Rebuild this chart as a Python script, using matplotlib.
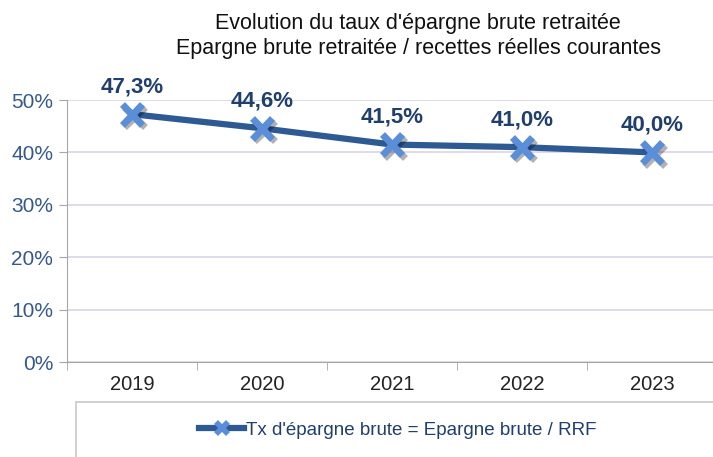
import matplotlib
matplotlib.use("Agg")
import matplotlib.pyplot as plt
import matplotlib.patheffects as pe
from matplotlib.patches import Rectangle

plt.rcParams['font.family'] = ['Liberation Sans', 'DejaVu Sans']

# donnees
annees = ['2019', '2020', '2021', '2022', '2023']
taux = [0.473, 0.446, 0.415, 0.410, 0.400]
etiquettes = ['47,3%', '44,6%', '41,5%', '41,0%', '40,0%']
yticks_lbl = ['0%', '10%', '20%', '30%', '40%', '50%']

bleu_fonce = '#2e5a94'
bleu_clair = '#5b8ed8'
bleu_texte = '#1f3f6e'

fig = plt.figure(figsize=(7.13, 4.57), dpi=100)
ax = fig.add_axes([67/713, 1 - 362/457, 650/713, 262/457])

x = range(len(annees))
ax.plot(x, taux, color=bleu_fonce, lw=4.5, zorder=3)
ax.plot(x, taux, ls='none', marker='x', ms=15, mew=5, color=bleu_clair, zorder=4,
        path_effects=[pe.SimpleLineShadow(offset=(1.5, -2), alpha=0.3), pe.Normal()])

for i, (v, t) in enumerate(zip(taux, etiquettes)):
    ax.annotate(t, (i, v), xytext=(0, 12), textcoords='offset points', ha='center',
                va='bottom', fontsize=16, fontweight='bold', color=bleu_texte)

ax.set_xlim(-0.5, 4.5)
ax.set_ylim(0, 0.5)
ax.set_yticks([0, 0.1, 0.2, 0.3, 0.4, 0.5])
ax.set_yticklabels(yticks_lbl, fontsize=15, color='#34598e')
ax.set_xticks(list(x))
ax.set_xticklabels(annees, fontsize=14.5, color='#222222')
ax.set_xticks([-0.5, 0.5, 1.5, 2.5, 3.5, 4.5], minor=True)
ax.tick_params(axis='x', which='major', length=0, pad=9)
ax.tick_params(axis='x', which='minor', length=6, color='#a6a6a6')
ax.tick_params(axis='y', length=6, color='#a6a6a6', pad=4)
ax.grid(axis='y', color='#dcd3e6', lw=1.2)
ax.set_axisbelow(True)
for s in ['top', 'right']:
    ax.spines[s].set_visible(False)
for s in ['left', 'bottom']:
    ax.spines[s].set_color('#a6a6a6')

fig.text(418/713, 1 - 36/457, "Evolution du taux d'épargne brute retraitée\nEpargne brute retraitée / recettes réelles courantes",
         ha='center', va='center', fontsize=15.5, color='#111111', linespacing=1.2)

# cadre de la legende
fig.patches.append(Rectangle((76/713, -0.1), 1, 0.1 + 55/457, transform=fig.transFigure,
                             fill=False, edgecolor='#c8c8c8', lw=1.2))
h1, = ax.plot([], [], color=bleu_fonce, lw=4.5, marker='x', ms=8, mew=4, mec=bleu_clair)
fig.legend([h1], ["Tx d'épargne brute = Epargne brute / RRF"], loc='center',
           bbox_to_anchor=(398/713, 1 - 430/457), frameon=False, fontsize=13.5,
           handlelength=2.4, handletextpad=0.1, labelcolor=bleu_texte)

fig.savefig('out.png', dpi=100)
